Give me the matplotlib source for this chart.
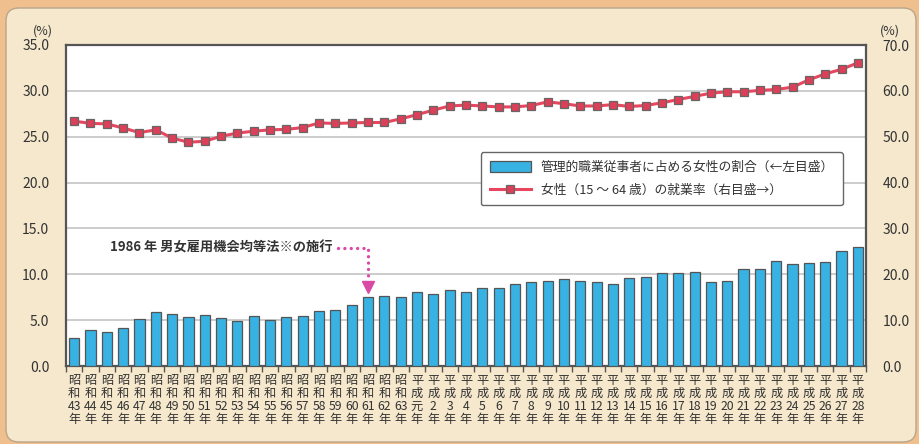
import matplotlib
matplotlib.use("Agg")
import matplotlib.pyplot as plt
from matplotlib.patches import FancyBboxPatch, Patch
from matplotlib.lines import Line2D

plt.rcParams['font.family'] = ['Noto Sans CJK JP', 'DejaVu Sans']

# data
eras = ["昭和"] * 21 + ["平成"] * 28
years = [str(y) for y in range(43, 64)] + ["元"] + [str(y) for y in range(2, 29)]
manager_share = [3.1, 3.9, 3.7, 4.1, 5.1, 5.9, 5.7, 5.3, 5.6, 5.2,
                 4.9, 5.5, 5.0, 5.3, 5.5, 6.0, 6.1, 6.6, 7.5, 7.6,
                 7.5, 8.1, 7.9, 8.3, 8.1, 8.5, 8.5, 8.9, 9.2, 9.3,
                 9.5, 9.3, 9.2, 8.9, 9.6, 9.7, 10.1, 10.1, 10.3, 9.2,
                 9.3, 10.6, 10.6, 11.5, 11.1, 11.2, 11.3, 12.5, 13.0]
employment_rate = [53.4, 52.9, 52.8, 51.9, 50.9, 51.5, 49.7, 48.8, 49.0, 50.1,
                   50.8, 51.2, 51.5, 51.6, 52.0, 53.0, 52.9, 53.0, 53.1, 53.1,
                   53.9, 54.8, 55.8, 56.7, 56.9, 56.7, 56.5, 56.5, 56.8, 57.6,
                   57.2, 56.7, 56.7, 57.0, 56.6, 56.8, 57.4, 58.1, 58.8, 59.5,
                   59.8, 59.8, 60.1, 60.3, 60.8, 62.4, 63.7, 64.7, 66.1]
left_ticks = [0, 5, 10, 15, 20, 25, 30, 35]
right_ticks = [0, 10, 20, 30, 40, 50, 60, 70]

bar_color = "#38b1e3"
line_color = "#e8465e"
dark = "#555555"
text_color = "#333333"

fig = plt.figure(figsize=(9.19, 4.44), dpi=100, facecolor="#efc08e")
panel = FancyBboxPatch((6 / 919, 2 / 444), 910 / 919, 434 / 444,
                       boxstyle="round,pad=0,rounding_size=0.014",
                       transform=fig.transFigure, facecolor="#f6e8cd",
                       edgecolor="#b9a58c", linewidth=1.0, mutation_aspect=919 / 444,
                       zorder=-5)
fig.patches.append(panel)

ax = fig.add_axes([66 / 919, 78 / 444, 800 / 919, 321 / 444])
ax.set_facecolor("white")
x = list(range(len(years)))
ax.bar(x, manager_share, width=0.62, color=bar_color, edgecolor=dark, linewidth=0.9, zorder=3)
ax.set_xlim(-0.5, len(years) - 0.5)
ax.set_ylim(0, 35)
ax.set_yticks(left_ticks)
ax.set_yticklabels([f"{v:.1f}" for v in left_ticks], fontsize=10, color=text_color)
ax.grid(axis="y", color="#c4c4c4", linewidth=1.2, zorder=0)
ax.set_axisbelow(True)
ax.tick_params(axis="y", length=0, pad=12)

labels = [f"{e[0]}\n{e[1]}\n{y}\n年" for e, y in zip(eras, years)]
ax.set_xticks(x)
ax.set_xticklabels(labels, fontsize=8.8, color=text_color, linespacing=0.98)
ax.tick_params(axis="x", which="major", length=0, pad=6)
ax.set_xticks([i + 0.5 for i in range(-1, len(years))], minor=True)
ax.tick_params(axis="x", which="minor", length=4, color=dark, width=1)

for s in ax.spines.values():
    s.set_color(dark)
    s.set_linewidth(1.6)

ax2 = ax.twinx()
ax2.plot(x, employment_rate, color=line_color, linewidth=2.2, marker="s", markersize=5.5,
         markerfacecolor="#dc4058", markeredgecolor="#666666", markeredgewidth=0.9, zorder=5)
ax2.set_ylim(0, 70)
ax2.set_yticks(right_ticks)
ax2.set_yticklabels([f"{v:.1f}" for v in right_ticks], fontsize=10, color=text_color)
ax2.tick_params(axis="y", length=0, pad=12)
for s in ax2.spines.values():
    s.set_visible(False)

fig.text(53 / 919, 1 - 31 / 444, "(%)", ha="right", va="center", fontsize=9, color=text_color)
fig.text(880 / 919, 1 - 31 / 444, "(%)", ha="left", va="center", fontsize=9, color=text_color)

# annotation for 1986
mag = "#d94aa6"
ax.text(15.85, 12.9, "1986 年 男女雇用機会均等法※の施行", ha="right", va="center",
        fontsize=9.5, fontweight="bold", color=text_color, zorder=6)
ax.plot([16.15, 18.0, 18.0], [12.9, 12.9, 9.4], linestyle=(0, (0.01, 1.9)),
        dash_capstyle="round", color=mag, linewidth=2.4, zorder=6)
ax.plot([18.0], [8.6], marker="v", markersize=9, color=mag, zorder=6)

handles = [Patch(facecolor=bar_color, edgecolor=dark, linewidth=0.9),
           Line2D([0], [0], color=line_color, linewidth=2.2, marker="s", markersize=5.5,
                  markerfacecolor="#dc4058", markeredgecolor="#666666", markeredgewidth=0.9)]
leg = fig.legend(handles, ["管理的職業従事者に占める女性の割合（←左目盛）",
                           "女性（15 ～ 64 歳）の就業率（右目盛→）"],
                 loc="upper right", bbox_to_anchor=(843 / 919, 1 - 152 / 444),
                 borderaxespad=0, fontsize=9.2, frameon=True, fancybox=True,
                 handlelength=3.2, handleheight=0.9, labelspacing=0.75, borderpad=0.7,
                 labelcolor=text_color)
leg.get_frame().set_edgecolor("#666666")
leg.get_frame().set_linewidth(1.0)
leg.get_frame().set_alpha(1)
leg.set_zorder(10)

fig.savefig("out.png", dpi=100, facecolor=fig.get_facecolor())
